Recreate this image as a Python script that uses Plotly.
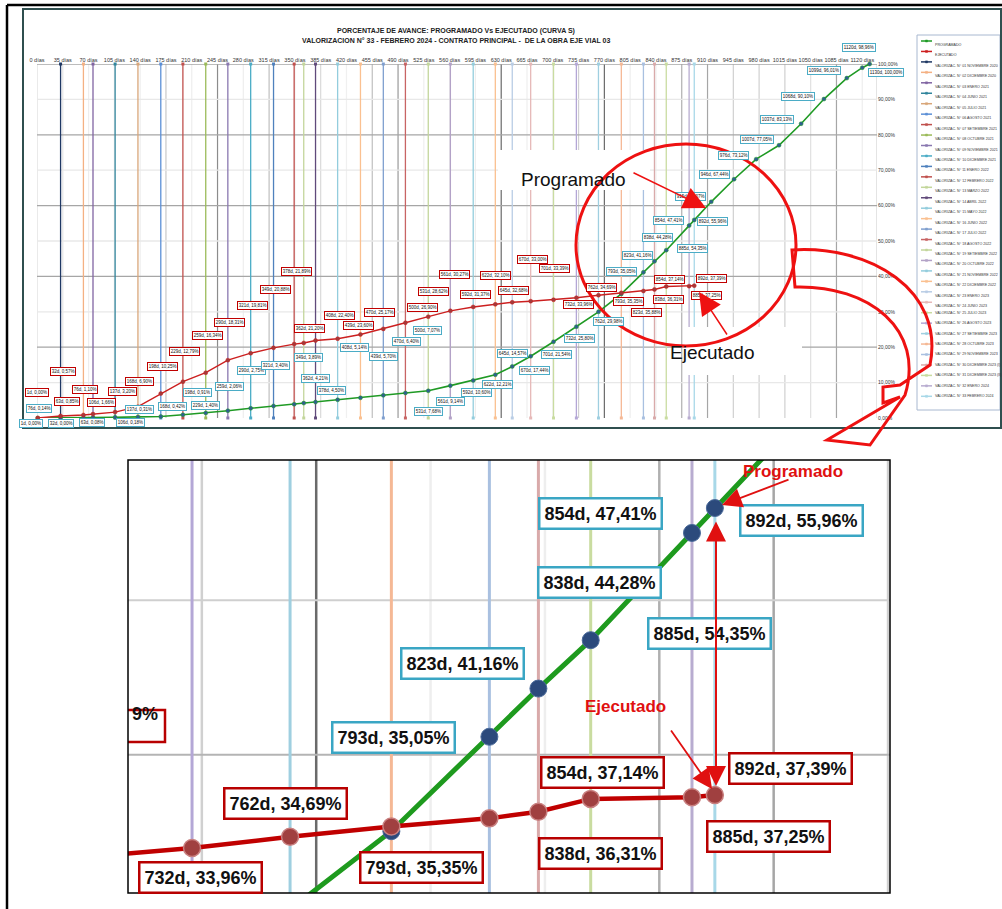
import plotly.graph_objects as go

W, H = 1002, 909

# ---------------- data ----------------
prog_days = [1, 32, 63, 76, 106, 137, 168, 198, 229, 259, 290, 321, 349, 362, 378, 408,
             439, 470, 500, 531, 561, 592, 622, 645, 670, 701, 732, 762, 793, 823, 838,
             854, 885, 892, 915, 946, 976, 1007, 1037, 1068, 1099, 1120, 1130]
prog_pct = [0.00, 0.00, 0.08, 0.14, 0.18, 0.31, 0.42, 0.91, 1.40, 2.06, 2.75, 3.40, 3.89,
            4.21, 4.50, 5.14, 5.70, 6.40, 7.07, 7.68, 9.14, 10.60, 12.21, 14.57, 17.44,
            21.54, 25.80, 29.98, 35.05, 41.16, 44.28, 47.41, 54.35, 55.96, 61.07, 67.44,
            73.12, 77.05, 83.13, 90.10, 96.01, 98.96, 100.00]

exec_days = [1, 32, 63, 76, 106, 137, 168, 198, 229, 259, 290, 321, 349, 362, 378, 408,
             439, 470, 500, 531, 561, 592, 622, 645, 670, 701, 732, 762, 793, 823, 838,
             854, 885, 892]
exec_pct = [0.00, 0.57, 0.85, 1.10, 1.66, 3.20, 6.90, 10.25, 12.79, 16.34, 18.31, 19.81,
            20.88, 21.20, 21.89, 22.40, 23.60, 25.17, 26.90, 28.62, 30.27, 31.37, 32.10,
            32.68, 33.00, 33.39, 33.96, 34.69, 35.35, 35.88, 36.31, 37.14, 37.25, 37.39]

val_days = exec_days[1:]
val_names = ["NOVIEMBRE 2020", "DICIEMBRE 2020", "ENERO 2021", "JUNIO 2021", "JULIO 2021",
             "AGOSTO 2021", "SETIEMBRE 2021", "OCTUBRE 2021", "NOVIEMBRE 2021",
             "DICIEMBRE 2021", "ENERO 2022", "FEBRERO 2022", "MARZO 2022", "ABRIL 2022",
             "MAYO 2022", "JUNIO 2022", "JULIO 2022", "AGOSTO 2022", "SETIEMBRE 2022",
             "OCTUBRE 2022", "NOVIEMBRE 2022", "DICIEMBRE 2022", "ENERO 2023",
             "JUNIO 2023", "JULIO 2023", "AGOSTO 2023", "SETIEMBRE 2023", "OCTUBRE 2023",
             "NOVIEMBRE 2023", "DICIEMBRE 2023 (I)", "DICIEMBRE 2023 (II)", "ENERO 2024",
             "FEBRERO 2024"]

tick_days = list(range(0, 1121, 35))
tick_labels = [f"{d} días" for d in tick_days]
pct_ticks = list(range(0, 101, 10))
pct_labels = [f"{p},00%" for p in pct_ticks]

# ---------------- styles ----------------
val_colors = ["#1f3864", "#f4b183", "#8064a2", "#31859c", "#d9a679", "#5b8fd6", "#c0504d",
              "#9bbb59", "#8a78b0", "#4bacc6", "#4f81bd", "#c0504d", "#c3d69b", "#604a7b",
              "#93cddd", "#fac090", "#7f9fcf", "#c86464", "#c3d69b", "#b3a2c7", "#93cddd",
              "#fac090", "#b9cde5", "#e6b9b8", "#c9dca0", "#b4a7d6", "#9fcfe0", "#f5b895",
              "#a9c0e0", "#d9aaaa", "#c9dca0", "#b8acd0", "#a8d8e8"]
gray_shade = {0: "#dcdcdc", 35: "#e6e6e6", 175: "#c8c8c8", 245: "#8c8c8c", 315: "#bfbfbf",
              385: "#d9d9d9", 420: "#f0f0f0", 455: "#bfbfbf", 490: "#999999", 630: "#6a6a6a",
              735: "#d0d0d0", 770: "#6a6a6a", 875: "#b0b0b0", 910: "#a6a6a6", 945: "#d0d0d0",
              980: "#d0d0d0", 1015: "#d0d0d0", 1050: "#e0e0e0", 1085: "#a6a6a6"}
GRAY_DEFAULT = "#eeeeee"
GREEN = "#1f9a24"
RED = "#cc1f1f"
LBL_BLUE = "#4bacc6"
LBL_RED = "#c00000"
FONT = "Liberation Sans, Arial, sans-serif"

# label offsets (pixels) top chart: day -> (dx, dy_up)
off_red = {1: (-1, 26), 32: (2, 44), 63: (-16, 13), 76: (-8, 25), 106: (-14, 10),
           137: (-15, 15), 168: (-21, 12), 198: (-20, 15), 229: (-21, 21), 259: (-20, 25),
           290: (-21, 31), 321: (-21, 42), 349: (-19, 55), 362: (6, 14), 378: (-19, 69),
           408: (2, 23), 439: (-2, 9), 470: (-4, 16), 500: (17, 15), 531: (5, 25),
           561: (4, 36), 592: (2, 12), 622: (0, 29), 645: (1, 12), 670: (2, 42),
           701: (1, 31), 732: (2, -7), 762: (3, 8), 793: (7, -9), 823: (3, -22),
           838: (14, -10), 854: (3, 7), 885: (17, -9), 892: (17, 7)}
off_prog = {1: (-7, -5), 32: (0, -5), 63: (9, -5), 76: (-54, 9), 106: (15, -5),
            137: (2, 7), 168: (12, 10), 198: (15, 22), 229: (0, 8), 259: (2, 24),
            290: (1, 38), 321: (2, 40), 349: (14, 47), 362: (12, 25), 378: (16, 12),
            408: (17, 52), 439: (23, 41), 470: (23, 54), 500: (22, 62), 531: (0, -21),
            561: (0, -16), 592: (3, -12), 622: (2, -10), 645: (0, 13), 670: (4, -14),
            701: (3, -13), 732: (3, -12), 762: (10, -10), 793: (0, 22), 823: (-6, 17),
            838: (3, 24), 854: (2, 30), 885: (3, -23), 892: (18, -2), 915: (-21, 5),
            946: (-20, 5), 976: (-23, 4), 1007: (-22, 6), 1037: (-24, 4), 1068: (-26, 3),
            1099: (-23, 8), 1120: (-3, 20), 1130: (16, -8)}
# inset (zoomed) offsets, visible labels only
ins_prog = {793: (2, 94), 823: (-27, 73), 838: (61, 106), 854: (10, 127),
            885: (18, -101), 892: (87, -12)}
ins_red = {732: (8, -29), 762: (-5, 33), 793: (30, -41), 838: (62, -42),
           854: (12, 26), 885: (77, -39), 892: (76, 27)}


def px(x):
    return x / W


def py(y):
    return 1 - y / H


def P(x, y):
    return f"{px(x):.5f},{py(y):.5f}"


def lab(d, v):
    return f"{d}d, {v:.2f}%".replace(".", ",")


fig = go.Figure()

# ---------------- axes ----------------
X0, X1, Y0, Y1 = 37, 877, 64, 418
XR = [0, 1140]
XR2 = [712.4, 945.6]
YR2 = [31.05, 59.07]
fig.update_layout(
    width=W, height=H, margin=dict(l=0, r=0, t=0, b=0, autoexpand=False),
    paper_bgcolor="white", plot_bgcolor="white", showlegend=False,
    font=dict(family=FONT, color="#222"),
    xaxis=dict(domain=[px(X0), px(X1)], range=XR, side="top", tickangle=0, automargin=False,
               tickvals=tick_days, ticktext=tick_labels, tickfont=dict(size=5.5, color="#333"),
               showgrid=False, zeroline=False, showline=False, ticks="", anchor="y"),
    yaxis=dict(domain=[py(Y1), py(Y0)], range=[0, 100], side="right", automargin=False,
               tickvals=pct_ticks, ticktext=pct_labels, tickfont=dict(size=5, color="#333"),
               showgrid=False, zeroline=False, showline=False, ticks="", anchor="x"),
    xaxis2=dict(domain=[px(128), px(890)], range=XR2, showticklabels=False, automargin=False,
                showgrid=False, zeroline=False, showline=False, anchor="y2"),
    yaxis2=dict(domain=[py(893), py(460)], range=YR2, showticklabels=False, automargin=False,
                showgrid=False, zeroline=False, showline=False, anchor="x2"),
)

shapes = []
# vertical grid lines (top chart + inset)
for d in list(range(0, 1141, 35)):
    c = gray_shade.get(d, GRAY_DEFAULT)
    shapes.append(dict(type="line", xref="x", yref="y", x0=d, x1=d, y0=0, y1=100,
                       line=dict(color=c, width=1.2), layer="below"))
    if XR2[0] < d < XR2[1]:
        shapes.append(dict(type="line", xref="x2", yref="y2", x0=d, x1=d, y0=YR2[0], y1=YR2[1],
                           line=dict(color=c, width=2.5), layer="below"))
shapes.append(dict(type="line", xref="x", yref="y", x0=XR[1], x1=XR[1], y0=0, y1=100,
                   line=dict(color="#c8c8c8", width=1), layer="below"))
# horizontal grid lines
for p in pct_ticks[1:]:
    c = "#a6a6a6" if p % 20 == 0 else "#e8e8e8"
    shapes.append(dict(type="line", xref="x", yref="y", x0=XR[0], x1=XR[1], y0=p, y1=p,
                       line=dict(color=c, width=1.3), layer="below"))
    if YR2[0] < p < YR2[1]:
        shapes.append(dict(type="line", xref="x2", yref="y2", x0=XR2[0], x1=XR2[1], y0=p, y1=p,
                           line=dict(color="#b4b4b4" if p % 20 == 0 else "#cfcfcf", width=2),
                           layer="below"))

# valorization vertical lines (traces)
for d, c in zip(val_days, val_colors):
    fig.add_trace(go.Scatter(x=[d, d], y=[0, 100], mode="lines+markers", xaxis="x", yaxis="y",
                             line=dict(color=c, width=1.3), marker=dict(size=3, symbol="square", color=c),
                             cliponaxis=False, hoverinfo="skip"))
    fig.add_trace(go.Scatter(x=[d, d], y=[0, 100], mode="lines", xaxis="x2", yaxis="y2",
                             line=dict(color=c, width=3), hoverinfo="skip"))

# curves top
fig.add_trace(go.Scatter(x=prog_days, y=prog_pct, mode="lines+markers", xaxis="x", yaxis="y",
                         line=dict(color=GREEN, width=1.6),
                         marker=dict(size=4, color="#2f5f8f", line=dict(color=GREEN, width=0.5)),
                         cliponaxis=False, name="PROGRAMADO"))
fig.add_trace(go.Scatter(x=exec_days, y=exec_pct, mode="lines+markers", xaxis="x", yaxis="y",
                         line=dict(color=RED, width=1.4),
                         marker=dict(size=4, color="#a33a3a", line=dict(color=RED, width=0.5)),
                         cliponaxis=False, name="EJECUTADO"))
# curves inset
fig.add_trace(go.Scatter(x=prog_days, y=prog_pct, mode="lines+markers", xaxis="x2", yaxis="y2",
                         line=dict(color="#1e9a1e", width=5),
                         marker=dict(size=17, color="#2c4a7c", line=dict(color="#4a6a9a", width=1))))
fig.add_trace(go.Scatter(x=exec_days, y=exec_pct, mode="lines+markers", xaxis="x2", yaxis="y2",
                         line=dict(color="#c00000", width=4.5),
                         marker=dict(size=17, color="#a04040", line=dict(color="#c98080", width=1.5))))

ann = []
# data labels top chart
for d, v in zip(prog_days, prog_pct):
    dx, dy = off_prog[d]
    ann.append(dict(x=d, y=v, xref="x", yref="y", text=lab(d, v), showarrow=False,
                    xshift=dx, yshift=dy, font=dict(size=4.5, color="#111"),
                    bgcolor="white", bordercolor=LBL_BLUE, borderwidth=1, borderpad=0.8))
for d, v in zip(exec_days, exec_pct):
    dx, dy = off_red[d]
    ann.append(dict(x=d, y=v, xref="x", yref="y", text=lab(d, v), showarrow=False,
                    xshift=dx, yshift=dy, font=dict(size=4.5, color="#111"),
                    bgcolor="white", bordercolor=LBL_RED, borderwidth=1, borderpad=0.8))
# inset labels
for d, v in zip(prog_days, prog_pct):
    if d in ins_prog:
        dx, dy = ins_prog[d]
        ann.append(dict(x=d, y=v, xref="x2", yref="y2", text="<b>" + lab(d, v) + "</b>",
                        showarrow=False, xshift=dx, yshift=dy, font=dict(size=18, color="#111"),
                        bgcolor="white", bordercolor="#3aa6c4", borderwidth=2.5, borderpad=4))
for d, v in zip(exec_days, exec_pct):
    if d in ins_red:
        dx, dy = ins_red[d]
        ann.append(dict(x=d, y=v, xref="x2", yref="y2", text="<b>" + lab(d, v) + "</b>",
                        showarrow=False, xshift=dx, yshift=dy, font=dict(size=18, color="#111"),
                        bgcolor="white", bordercolor="#b80000", borderwidth=2.5, borderpad=4))
# cut label at inset left edge (701d)
cut = lab(701, exec_pct[exec_days.index(701)])
shapes.append(dict(type="path", xref="paper", yref="paper",
                   path="M" + P(128, 710) + " L" + P(165, 710) + " L" + P(165, 742) + " L" + P(128, 742),
                   line=dict(color="#b80000", width=2.5), fillcolor="white", layer="above"))
ann.append(dict(x=px(160), y=py(726), xref="paper", yref="paper", xanchor="right",
                text="<b>" + cut[-2:] + "</b>", showarrow=False, font=dict(size=18, color="#111")))

# titles
ann.append(dict(x=px(456), y=py(25), xref="paper", yref="paper", showarrow=False,
                text="<b>PORCENTAJE DE AVANCE: PROGRAMADO Vs EJECUTADO (CURVA S)</b>",
                font=dict(size=7, color="#222")))
ann.append(dict(x=px(456), y=py(35), xref="paper", yref="paper", showarrow=False,
                text="<b>VALORIZACION N° 33 - FEBRERO 2024 - CONTRATO PRINCIPAL -  DE LA OBRA EJE VIAL 03</b>",
                font=dict(size=7, color="#222")))

# legend (manual)
shapes.append(dict(type="rect", xref="paper", yref="paper", x0=px(917), x1=px(1000),
                   y0=py(410), y1=py(35), line=dict(color="#a8b8d0", width=1), fillcolor="white"))
leg_items = [("PROGRAMADO", GREEN), ("EJECUTADO", RED)] + \
    [(f"VALORIZAC. N° {i + 1:02d} {n}", c) for i, (n, c) in enumerate(zip(val_names, val_colors))]
for i, (n, c) in enumerate(leg_items):
    yy = 41 + i * 10.45
    shapes.append(dict(type="line", xref="paper", yref="paper", x0=px(921), x1=px(932),
                       y0=py(yy), y1=py(yy), line=dict(color=c, width=1.5)))
    shapes.append(dict(type="rect", xref="paper", yref="paper", x0=px(925.5), x1=px(927.5),
                       y0=py(yy + 1), y1=py(yy - 1), line=dict(color=c, width=0.5), fillcolor=c))
    ann.append(dict(x=px(933), y=py(yy), xref="paper", yref="paper", xanchor="left",
                    showarrow=False, text=n, font=dict(size=3.6, color="#333")))

# frames
shapes.append(dict(type="rect", xref="paper", yref="paper", x0=px(23), x1=px(1001),
                   y0=py(428), y1=py(9), line=dict(color="#2f4f4f", width=2)))
shapes.append(dict(type="line", xref="paper", yref="paper", x0=px(7), x1=px(1002),
                   y0=py(5), y1=py(5), line=dict(color="black", width=2.5)))
shapes.append(dict(type="line", xref="paper", yref="paper", x0=px(7), x1=px(7),
                   y0=py(5), y1=py(909), line=dict(color="black", width=2.5)))
shapes.append(dict(type="rect", xref="paper", yref="paper", x0=px(128), x1=px(890),
                   y0=py(893), y1=py(460), line=dict(color="black", width=1.5)))

# top callouts: masks
shapes.append(dict(type="rect", xref="paper", yref="paper", x0=px(498), x1=px(650),
                   y0=py(190), y1=py(150), line=dict(width=0), fillcolor="white", layer="above"))
shapes.append(dict(type="rect", xref="paper", yref="paper", x0=px(684), x1=px(802),
                   y0=py(375), y1=py(327), line=dict(width=0), fillcolor="white", layer="above"))
ann.append(dict(x=px(573), y=py(167), xref="paper", yref="paper", showarrow=False,
                text="Programado", font=dict(size=19, color="#111")))
ann.append(dict(x=px(757), y=py(352), xref="paper", yref="paper", showarrow=False,
                text="Ejecutado", font=dict(size=19, color="#111")))
ann.append(dict(x=px(706), y=py(208), xref="paper", yref="paper", text="", showarrow=True,
                ax=-74, ay=-36, arrowhead=2, arrowsize=3, arrowwidth=1.5, arrowcolor="#ee1111"))
ann.append(dict(x=px(699), y=py(292), xref="paper", yref="paper", text="", showarrow=True,
                ax=29, ay=44, arrowhead=2, arrowsize=3, arrowwidth=1.5, arrowcolor="#ee1111"))
shapes.append(dict(type="circle", xref="paper", yref="paper", x0=px(576), x1=px(796),
                   y0=py(346), y1=py(144), line=dict(color="#ee1111", width=3), layer="above"))

arrow_path = ("M" + P(792, 250) + " C" + P(870, 245) + " " + P(945, 290) + " " + P(930, 365) +
              " L" + P(900, 385) + " L" + P(883, 387) + " L" + P(883, 403) + " L" + P(900, 397) +
              " L" + P(827, 440) + " L" + P(870, 445) + " L" + P(905, 395) +
              " C" + P(925, 330) + " " + P(870, 285) + " " + P(795, 287) + " Z")
shapes.append(dict(type="path", xref="paper", yref="paper", path=arrow_path,
                   line=dict(color="#ee1111", width=3), layer="above"))

# inset callouts
ann.append(dict(x=px(845), y=py(471), xref="paper", yref="paper", showarrow=False,
                text="<b>Programado</b>", font=dict(size=17, color="#e01010")))
ann.append(dict(x=px(625), y=py(718), xref="paper", yref="paper", showarrow=False,
                text="<b>Ejecutado</b>", font=dict(size=17, color="#e01010")))
ann.append(dict(x=px(722), y=py(505), xref="paper", yref="paper", text="", showarrow=True,
                ax=68, ay=-26, arrowhead=2, arrowsize=2.2, arrowwidth=1.8, arrowcolor="#e01010"))
ann.append(dict(x=px(712), y=py(789), xref="paper", yref="paper", text="", showarrow=True,
                ax=-42, ay=-60, arrowhead=2, arrowsize=2.2, arrowwidth=1.8, arrowcolor="#e01010"))
ann.append(dict(x=px(716), y=py(786), xref="paper", yref="paper", text="", showarrow=True,
                ax=0, ay=-266, arrowhead=2, startarrowhead=2, arrowside="end+start",
                arrowsize=2, startarrowsize=2, arrowwidth=2, arrowcolor="#e01010"))

fig.update_layout(shapes=shapes, annotations=ann)
fig.write_html("out.html", config={"displayModeBar": False, "staticPlot": True},
               post_script="document.body.style.margin='0px';document.body.style.overflow='hidden';")
